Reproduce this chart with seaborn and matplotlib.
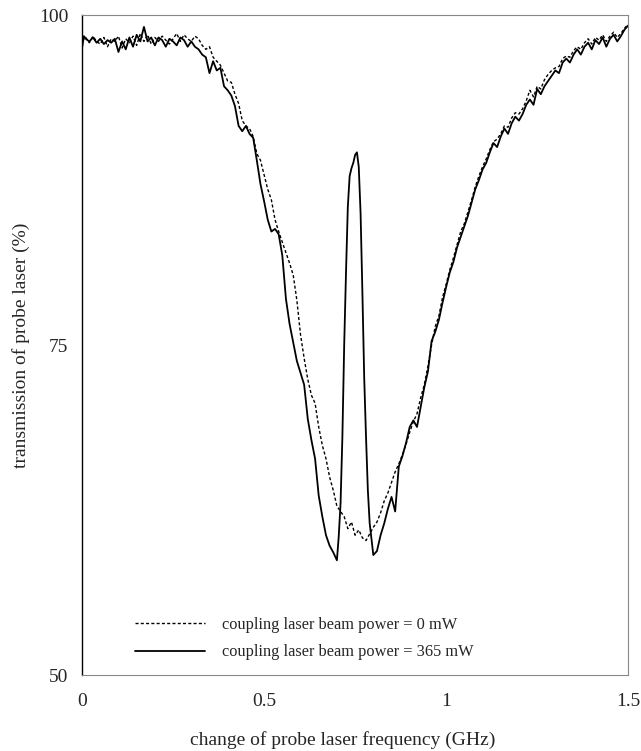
import numpy as np
import pandas as pd
import matplotlib
matplotlib.use("Agg")
import matplotlib.pyplot as plt
import seaborn as sns

# coupling laser = 0 mW (dashed)
freq_off = [0.00, 0.01, 0.02, 0.03, 0.04, 0.05, 0.06, 0.07, 0.08, 0.09,
            0.10, 0.11, 0.12, 0.13, 0.14, 0.15, 0.16, 0.17, 0.18, 0.19,
            0.20, 0.21, 0.22, 0.23, 0.24, 0.25, 0.26, 0.27, 0.28, 0.29,
            0.30, 0.31, 0.32, 0.33, 0.34, 0.35, 0.36, 0.37, 0.38, 0.39,
            0.40, 0.41, 0.42, 0.43, 0.44, 0.45, 0.46, 0.47, 0.48, 0.49,
            0.50, 0.51, 0.52, 0.53, 0.54, 0.55, 0.56, 0.57, 0.58, 0.59,
            0.60, 0.61, 0.62, 0.63, 0.64, 0.65, 0.66, 0.67, 0.68, 0.69,
            0.70, 0.71, 0.72, 0.73, 0.74, 0.75, 0.76, 0.77, 0.78, 0.79,
            0.80, 0.81, 0.82, 0.83, 0.84, 0.85, 0.86, 0.87, 0.88, 0.89,
            0.90, 0.91, 0.92, 0.93, 0.94, 0.95, 0.96, 0.97, 0.98, 0.99,
            1.00, 1.01, 1.02, 1.03, 1.04, 1.05, 1.06, 1.07, 1.08, 1.09,
            1.10, 1.11, 1.12, 1.13, 1.14, 1.15, 1.16, 1.17, 1.18, 1.19,
            1.20, 1.21, 1.22, 1.23, 1.24, 1.25, 1.26, 1.27, 1.28, 1.29,
            1.30, 1.31, 1.32, 1.33, 1.34, 1.35, 1.36, 1.37, 1.38, 1.39,
            1.40, 1.41, 1.42, 1.43, 1.44, 1.45, 1.46, 1.47, 1.48, 1.49, 1.50]
trans_off = [98.0, 98.3, 97.9, 98.4, 98.0, 97.8, 98.3, 97.6, 98.2, 98.0,
             98.4, 97.5, 98.2, 97.9, 98.4, 97.7, 98.6, 98.0, 98.5, 97.8,
             98.3, 98.0, 98.4, 98.1, 97.8, 98.2, 98.6, 98.0, 98.5, 98.2,
             98.0, 98.4, 98.2, 97.7, 97.4, 97.6, 96.8, 96.5, 96.2, 95.6,
             95.0, 94.9, 94.0, 93.3, 92.0, 91.6, 91.4, 90.8, 89.5, 89.0,
             87.9, 86.8, 86.0, 84.5, 83.6, 82.8, 82.0, 81.2, 80.3, 78.4,
             75.8, 74.0, 72.4, 71.2, 70.6, 68.8, 67.4, 66.4, 65.0, 64.0,
             62.8, 62.4, 62.0, 61.1, 61.6, 60.6, 61.0, 60.4, 60.2, 60.7,
             61.2, 61.6, 62.3, 63.2, 63.8, 64.6, 65.4, 66.0, 66.7, 67.5,
             68.4, 69.2, 69.8, 71.0, 72.0, 73.4, 75.0, 76.4, 77.2, 78.6,
             79.6, 80.7, 81.6, 82.6, 83.6, 84.2, 85.1, 86.0, 87.0, 87.8,
             88.5, 89.1, 89.8, 90.4, 90.6, 91.0, 91.6, 91.5, 92.2, 92.6,
             92.5, 92.9, 93.5, 94.3, 93.8, 94.6, 94.4, 95.1, 95.5, 95.8,
             96.0, 96.1, 96.7, 96.9, 96.8, 97.3, 97.6, 97.4, 97.9, 98.2,
             97.8, 98.3, 98.1, 98.5, 98.0, 98.4, 98.7, 98.3, 98.6, 99.0, 99.3]

# coupling laser = 365 mW (solid)
freq_on = [0.00, 0.005, 0.01, 0.02, 0.03, 0.04, 0.05, 0.06, 0.07, 0.08, 0.09,
           0.10, 0.11, 0.12, 0.13, 0.14, 0.15, 0.16, 0.17, 0.18, 0.19,
           0.20, 0.21, 0.22, 0.23, 0.24, 0.25, 0.26, 0.27, 0.28, 0.29,
           0.30, 0.31, 0.32, 0.33, 0.34, 0.35, 0.36, 0.37, 0.38, 0.39,
           0.40, 0.41, 0.42, 0.43, 0.44, 0.45, 0.46, 0.47, 0.48, 0.49,
           0.50, 0.51, 0.52, 0.53, 0.54, 0.55, 0.56, 0.57, 0.58, 0.59,
           0.60, 0.61, 0.62, 0.63, 0.64, 0.65, 0.66, 0.67, 0.68, 0.69,
           0.70, 0.705, 0.71, 0.715, 0.72, 0.725, 0.73, 0.735, 0.74, 0.745,
           0.75, 0.755, 0.76, 0.765, 0.77, 0.775, 0.78, 0.785, 0.79, 0.795,
           0.80, 0.81, 0.82, 0.83, 0.84, 0.85, 0.86, 0.87, 0.88, 0.89,
           0.90, 0.91, 0.92, 0.93, 0.94, 0.95, 0.96, 0.97, 0.98, 0.99,
           1.00, 1.01, 1.02, 1.03, 1.04, 1.05, 1.06, 1.07, 1.08, 1.09,
           1.10, 1.11, 1.12, 1.13, 1.14, 1.15, 1.16, 1.17, 1.18, 1.19,
           1.20, 1.21, 1.22, 1.23, 1.24, 1.25, 1.26, 1.27, 1.28, 1.29,
           1.30, 1.31, 1.32, 1.33, 1.34, 1.35, 1.36, 1.37, 1.38, 1.39,
           1.40, 1.41, 1.42, 1.43, 1.44, 1.45, 1.46, 1.47, 1.48, 1.49, 1.50]
trans_on = [97.5, 98.4, 98.2, 98.0, 98.3, 97.9, 98.2, 97.8, 98.1, 97.9, 98.2,
            97.2, 98.0, 97.4, 98.3, 97.6, 98.5, 98.0, 99.1, 98.0, 98.3,
            97.7, 98.3, 98.1, 97.6, 98.2, 98.0, 97.7, 98.3, 98.1, 97.6,
            98.0, 97.6, 97.4, 97.0, 96.8, 95.6, 96.5, 95.8, 96.0, 94.6,
            94.3, 93.9, 93.1, 91.6, 91.2, 91.6, 91.0, 90.7, 89.0, 87.2,
            85.9, 84.5, 83.6, 83.8, 83.4, 81.8, 78.5, 76.6, 75.2, 73.8,
            72.9, 72.0, 69.4, 67.8, 66.4, 63.6, 62.0, 60.6, 59.8, 59.3,
            58.7, 60.5, 63.0, 68.0, 75.0, 80.5, 85.5, 87.8, 88.4, 88.8,
            89.4, 89.6, 88.5, 85.0, 79.0, 72.5, 68.0, 64.0, 61.5, 60.3,
            59.1, 59.4, 60.6, 61.5, 62.6, 63.5, 62.4, 65.8, 66.6, 67.6,
            68.8, 69.3, 68.8, 70.3, 71.8, 73.0, 75.3, 76.0, 76.9, 78.2,
            79.4, 80.5, 81.3, 82.4, 83.2, 84.0, 84.8, 85.8, 86.8, 87.5,
            88.3, 88.8, 89.6, 90.3, 90.0, 90.8, 91.4, 91.0, 91.8, 92.3,
            92.0, 92.5, 93.2, 93.6, 93.2, 94.4, 94.0, 94.6, 95.0, 95.4,
            95.8, 95.6, 96.4, 96.7, 96.4, 97.0, 97.4, 97.0, 97.6, 97.9,
            97.4, 98.1, 97.8, 98.3, 97.6, 98.2, 98.5, 98.0, 98.4, 98.9, 99.2]

labels = ["coupling laser beam power = 0 mW", "coupling laser beam power = 365 mW"]
x_ticks = [0, 0.5, 1, 1.5]
x_ticklabels = ["0", "0.5", "1", "1.5"]
y_ticks = [50, 75, 100]

sns.set_style("white")
plt.rcParams['font.family'] = ['Liberation Serif', 'DejaVu Serif']

fig = plt.figure(figsize=(6.41, 7.51), dpi=100)
ax = fig.add_axes([0.128, 0.101, 0.852, 0.879])

sns.lineplot(x=freq_off, y=trans_off, ax=ax, color="black", linewidth=1.0,
             linestyle=(0, (2.2, 1.6)), label=labels[0], estimator=None, sort=False)
sns.lineplot(x=freq_on, y=trans_on, ax=ax, color="black", linewidth=1.3,
             label=labels[1], estimator=None, sort=False)

ax.set_xlim(0, 1.5)
ax.set_ylim(50, 100)
ax.set_xticks(x_ticks)
ax.set_xticklabels(x_ticklabels)
ax.set_yticks(y_ticks)
ax.tick_params(axis="both", labelsize=14, direction="in", length=3, width=0.6)
ax.tick_params(axis="x", pad=13)
ax.tick_params(axis="y", pad=10)
ax.set_xlabel("change of probe laser frequency (GHz)", fontsize=14, labelpad=12)
ax.xaxis.set_label_coords(0.478, -0.085)
ax.set_ylabel("transmission of probe laser (%)", fontsize=14, labelpad=6)

for side in ["top", "right", "bottom"]:
    ax.spines[side].set_color("#888888")
    ax.spines[side].set_linewidth(0.8)
ax.spines["left"].set_color("black")
ax.spines["left"].set_linewidth(1.0)

ax.legend(loc="lower left", bbox_to_anchor=(0.07, 0.0), frameon=False,
          fontsize=11.8, handlelength=4.3, handletextpad=1.0, labelspacing=0.7)

fig.savefig("out.png", dpi=100)
